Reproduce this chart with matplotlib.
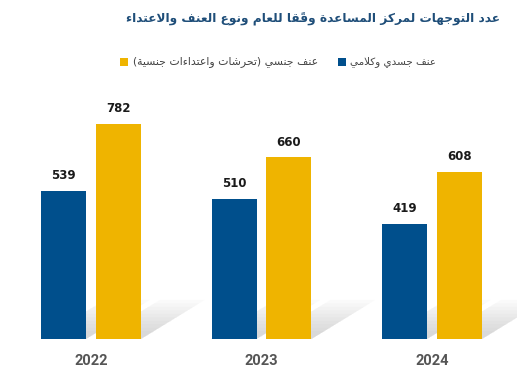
import matplotlib
matplotlib.use("Agg")
import matplotlib.pyplot as plt
from matplotlib.patches import Rectangle, Polygon
import numpy as np

# ---------------- data ----------------
years = ["2022", "2023", "2024"]
physical_verbal = [539, 510, 419]
sexual = [782, 660, 608]
title_txt = "عدد التوجهات لمركز المساعدة وفقًا للعام ونوع العنف والاعتداء"
label_physical = "عنف جسدي وكلامي"
label_sexual = "عنف جنسي (تحرشات واعتداءات جنسية)"

BLUE = "#004f8c"
YELLOW = "#efb400"
TITLE_C = "#1f4e79"

# ------------- minimal Arabic shaping -------------
FORMS = {
    'ء': (0xFE80, None, None, None),
    'آ': (0xFE81, 0xFE82, None, None),
    'أ': (0xFE83, 0xFE84, None, None),
    'ؤ': (0xFE85, 0xFE86, None, None),
    'إ': (0xFE87, 0xFE88, None, None),
    'ئ': (0xFE89, 0xFE8A, 0xFE8B, 0xFE8C),
    'ا': (0xFE8D, 0xFE8E, None, None),
    'ب': (0xFE8F, 0xFE90, 0xFE91, 0xFE92),
    'ة': (0xFE93, 0xFE94, None, None),
    'ت': (0xFE95, 0xFE96, 0xFE97, 0xFE98),
    'ث': (0xFE99, 0xFE9A, 0xFE9B, 0xFE9C),
    'ج': (0xFE9D, 0xFE9E, 0xFE9F, 0xFEA0),
    'ح': (0xFEA1, 0xFEA2, 0xFEA3, 0xFEA4),
    'خ': (0xFEA5, 0xFEA6, 0xFEA7, 0xFEA8),
    'د': (0xFEA9, 0xFEAA, None, None),
    'ذ': (0xFEAB, 0xFEAC, None, None),
    'ر': (0xFEAD, 0xFEAE, None, None),
    'ز': (0xFEAF, 0xFEB0, None, None),
    'س': (0xFEB1, 0xFEB2, 0xFEB3, 0xFEB4),
    'ش': (0xFEB5, 0xFEB6, 0xFEB7, 0xFEB8),
    'ص': (0xFEB9, 0xFEBA, 0xFEBB, 0xFEBC),
    'ض': (0xFEBD, 0xFEBE, 0xFEBF, 0xFEC0),
    'ط': (0xFEC1, 0xFEC2, 0xFEC3, 0xFEC4),
    'ظ': (0xFEC5, 0xFEC6, 0xFEC7, 0xFEC8),
    'ع': (0xFEC9, 0xFECA, 0xFECB, 0xFECC),
    'غ': (0xFECD, 0xFECE, 0xFECF, 0xFED0),
    'ف': (0xFED1, 0xFED2, 0xFED3, 0xFED4),
    'ق': (0xFED5, 0xFED6, 0xFED7, 0xFED8),
    'ك': (0xFED9, 0xFEDA, 0xFEDB, 0xFEDC),
    'ل': (0xFEDD, 0xFEDE, 0xFEDF, 0xFEE0),
    'م': (0xFEE1, 0xFEE2, 0xFEE3, 0xFEE4),
    'ن': (0xFEE5, 0xFEE6, 0xFEE7, 0xFEE8),
    'ه': (0xFEE9, 0xFEEA, 0xFEEB, 0xFEEC),
    'و': (0xFEED, 0xFEEE, None, None),
    'ى': (0xFEEF, 0xFEF0, None, None),
    'ي': (0xFEF1, 0xFEF2, 0xFEF3, 0xFEF4),
}
LAMALEF = {'آ': (0xFEF5, 0xFEF6), 'أ': (0xFEF7, 0xFEF8),
           'إ': (0xFEF9, 0xFEFA), 'ا': (0xFEFB, 0xFEFC)}


def is_mark(c):
    return 0x064B <= ord(c) <= 0x0652 or ord(c) == 0x0670


def dual(c):
    return c in FORMS and FORMS[c][2] is not None


def joins(c):
    return c in FORMS and FORMS[c][1] is not None


def shape(text):
    chars = list(text)
    n = len(chars)

    def prev_letter(i):
        j = i - 1
        while j >= 0 and is_mark(chars[j]):
            j -= 1
        return j

    def next_letter(i):
        j = i + 1
        while j < n and is_mark(chars[j]):
            j += 1
        return j

    clusters = []
    i = 0
    while i < n:
        c = chars[i]
        if is_mark(c):
            if clusters:
                clusters[-1] += c
            else:
                clusters.append(c)
            i += 1
            continue
        if c in FORMS:
            p = prev_letter(i)
            jp = p >= 0 and dual(chars[p])
            nx = next_letter(i)
            if c == 'ل' and nx < n and chars[nx] in LAMALEF:
                iso, fin = LAMALEF[chars[nx]]
                g = chr(fin if jp else iso)
                marks = ''.join(chars[i + 1:nx])
                clusters.append(g + marks)
                i = nx + 1
                continue
            jn = dual(c) and nx < n and joins(chars[nx])
            iso, fin, ini, med = FORMS[c]
            if jp and jn:
                g = med
            elif jp:
                g = fin if fin else iso
            elif jn:
                g = ini
            else:
                g = iso
            clusters.append(chr(g))
        else:
            clusters.append({'(': ')', ')': '('}.get(c, c))
        i += 1
    return ''.join(reversed(clusters))


plt.rcParams['font.family'] = ['DejaVu Sans']

W, H = 519, 381
fig = plt.figure(figsize=(W / 100, H / 100), dpi=100)
fig.patch.set_facecolor("white")
renderer = fig.canvas.get_renderer()


def fit_text(t, target_px):
    """Scale font size so the rendered text spans target_px pixels."""
    bb = t.get_window_extent(renderer=renderer)
    t.set_fontsize(t.get_fontsize() * target_px / bb.width)
    return t


ax_left, ax_right = 5.75, 517.25
ax_bottom, ax_top = 339, 105
ax = fig.add_axes([ax_left / W, (H - ax_bottom) / H,
                   (ax_right - ax_left) / W, (ax_bottom - ax_top) / H])
ax.set_xlim(-0.5, 2.5)
ax.set_ylim(0, 850)
ax.axis("off")

x = np.arange(len(years))
bw = 0.264
off = 0.161

# soft shadow decoration behind bars
sdx, sdy = 0.375, 142
for xi in x:
    for xc in (xi - off, xi + off):
        x0, x1 = xc - bw / 2, xc + bw / 2
        for frac in np.linspace(1.0, 0.2, 10):
            poly = Polygon([(x0, 0), (x1, 0), (x1 + sdx * frac, sdy * frac),
                            (x0 + sdx * frac, sdy * frac)],
                           closed=True, facecolor="#a0a0a0", edgecolor="none",
                           alpha=0.045, zorder=1)
            ax.add_patch(poly)

b1 = ax.bar(x - off, physical_verbal, bw, color=BLUE, zorder=3)
b2 = ax.bar(x + off, sexual, bw, color=YELLOW, zorder=3)

for bars, vals in ((b1, physical_verbal), (b2, sexual)):
    for r, v in zip(bars, vals):
        ax.annotate(str(v), (r.get_x() + r.get_width() / 2, v),
                    xytext=(0, 6), textcoords="offset points",
                    ha="center", va="bottom", fontsize=8.5,
                    fontweight="bold", color="#1a1a1a", zorder=4)

for xi, yr in zip(x, years):
    ax.annotate(yr, (xi, 0), xytext=(0, -16), textcoords="offset points",
                ha="center", va="center", fontsize=10.5, fontweight="bold",
                color="#555555", family=["Roboto", "DejaVu Sans"])

# title
tt = fig.text(313 / W, 1 - 19 / H, shape(title_txt), ha="center", va="center",
              fontsize=10, fontweight="bold", color=TITLE_C)
fit_text(tt, 373)

# legend (manual)
ly = 1 - 62 / H
sq = 8
for sx, col, txt, tx, tw in ((120, YELLOW, label_sexual, 133, 185),
                             (338, BLUE, label_physical, 350, 86)):
    fig.patches.append(Rectangle((sx / W, ly - sq / 2 / H), sq / W, sq / H,
                                 transform=fig.transFigure, facecolor=col,
                                 edgecolor="none"))
    lt = fig.text(tx / W, ly, shape(txt), ha="left", va="center", fontsize=8,
                  color="#444444")
    fit_text(lt, tw)

fig.savefig("out.png", dpi=100, facecolor="white")
